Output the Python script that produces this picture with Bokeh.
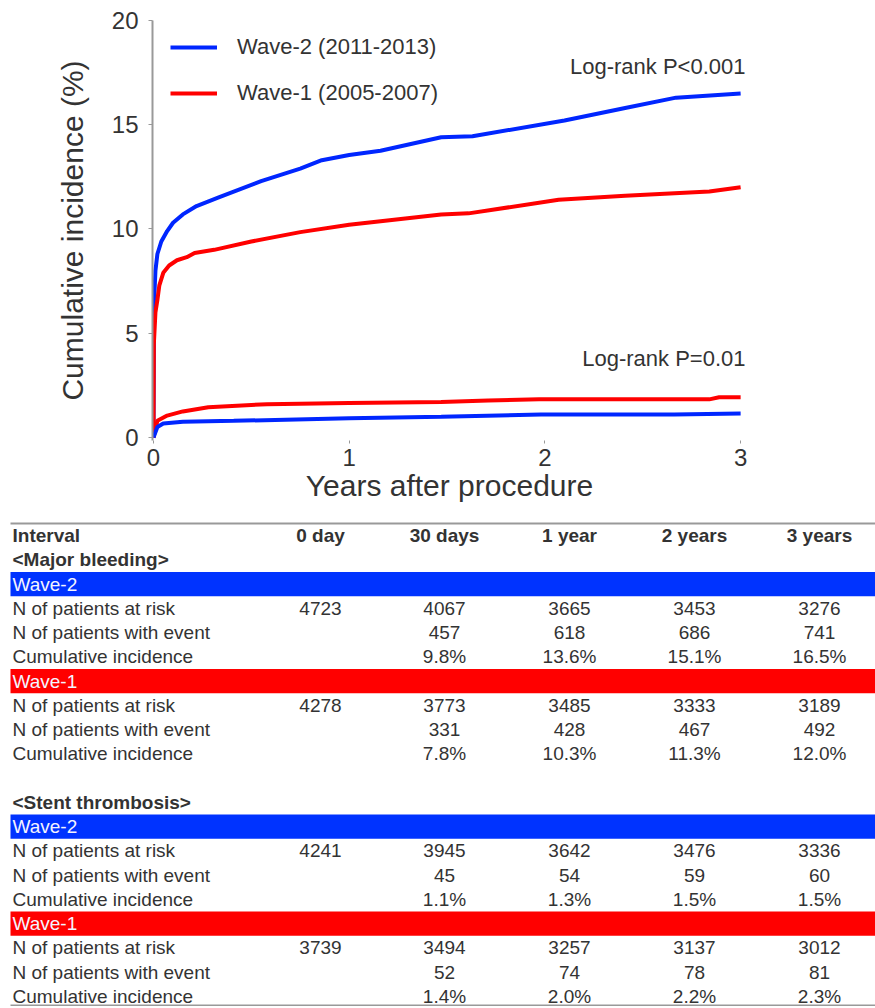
from bokeh.plotting import figure
from bokeh.models import ColumnDataSource, Range1d, FixedTicker, Legend, LegendItem, Label
from bokeh.embed import file_html
from bokeh.resources import INLINE
from bokeh.core.properties import value

FONT = "Liberation Sans"
TXT = "#333333"
BLUE = "#0026ff"
RED = "#ff0000"
BAR_BLUE = "#0033ff"
BAR_RED = "#ff0000"

# ---------------- curve data (years, cumulative incidence %) ----------------
w2_bleed_t = [0, 0.003, 0.01, 0.02, 0.04, 0.07, 0.1, 0.15, 0.22, 0.33, 0.55, 0.75, 0.86, 1.0, 1.16, 1.47, 1.63, 2.1, 2.41, 2.67, 3.0]
w2_bleed_v = [0, 6.5, 8.0, 8.8, 9.4, 9.9, 10.3, 10.7, 11.1, 11.5, 12.3, 12.9, 13.3, 13.55, 13.75, 14.4, 14.45, 15.2, 15.8, 16.3, 16.5]

w1_bleed_t = [0, 0.002, 0.01, 0.02, 0.03, 0.05, 0.08, 0.12, 0.17, 0.21, 0.31, 0.5, 0.75, 1.0, 1.47, 1.61, 2.07, 2.41, 2.84, 3.0]
w1_bleed_v = [0, 4.5, 6.0, 6.6, 7.3, 7.9, 8.25, 8.5, 8.65, 8.85, 9.0, 9.4, 9.85, 10.2, 10.7, 10.75, 11.4, 11.6, 11.8, 12.0]

w2_st_t = [0, 0.02, 0.05, 0.15, 0.41, 1.0, 1.47, 1.98, 2.66, 3.0]
w2_st_v = [0, 0.5, 0.67, 0.75, 0.8, 0.92, 1.0, 1.1, 1.1, 1.15]

w1_st_t = [0, 0.02, 0.07, 0.15, 0.28, 0.58, 1.0, 1.47, 1.71, 1.97, 2.84, 2.89, 3.0]
w1_st_v = [0, 0.8, 1.05, 1.25, 1.45, 1.6, 1.65, 1.7, 1.78, 1.83, 1.83, 1.93, 1.93]

x_ticks = [0, 1, 2, 3]
y_ticks = [0, 5, 10, 15, 20]
legend_labels = ["Wave-2 (2011-2013)", "Wave-1 (2005-2007)"]
p_texts = ["Log-rank P<0.001", "Log-rank P=0.01"]

# ---------------- table data ----------------
interval_cols = ["0 day", "30 days", "1 year", "2 years", "3 years"]
row_labels = ["N of patients at risk", "N of patients with event", "Cumulative incidence"]
section_titles = ["<Major bleeding>", "<Stent thrombosis>"]
group_names = ["Wave-2", "Wave-1"]

bleed_w2_risk = [4723, 4067, 3665, 3453, 3276]
bleed_w2_event = [None, 457, 618, 686, 741]
bleed_w2_cum = [None, 9.8, 13.6, 15.1, 16.5]
bleed_w1_risk = [4278, 3773, 3485, 3333, 3189]
bleed_w1_event = [None, 331, 428, 467, 492]
bleed_w1_cum = [None, 7.8, 10.3, 11.3, 12.0]

st_w2_risk = [4241, 3945, 3642, 3476, 3336]
st_w2_event = [None, 45, 54, 59, 60]
st_w2_cum = [None, 1.1, 1.3, 1.5, 1.5]
st_w1_risk = [3739, 3494, 3257, 3137, 3012]
st_w1_event = [None, 52, 74, 78, 81]
st_w1_cum = [None, 1.4, 2.0, 2.2, 2.3]

# ---------------- KM plot ----------------
W = 875
P_H = 516
p = figure(width=W, height=P_H, x_range=Range1d(-0.005, 3.03), y_range=Range1d(-0.144, 20),
           output_backend="svg", toolbar_location=None, title=None,
           min_border_left=152, min_border_right=129, min_border_top=20, min_border_bottom=76)
p.grid.visible = False
p.outline_line_color = None
p.background_fill_color = "white"

r_w2 = p.line(w2_bleed_t, w2_bleed_v, line_color=BLUE, line_width=4)
r_w1 = p.line(w1_bleed_t, w1_bleed_v, line_color=RED, line_width=4)
p.line(w1_st_t, w1_st_v, line_color=RED, line_width=4)
p.line(w2_st_t, w2_st_v, line_color=BLUE, line_width=4)

xa = p.xaxis[0]
xa.ticker = FixedTicker(ticks=x_ticks)
xa.axis_line_color = None
xa.major_tick_line_color = "#999999"
xa.major_tick_out = 3
xa.major_tick_in = 0
xa.minor_tick_line_color = None
xa.major_label_standoff = 5
xa.major_label_text_font = FONT
xa.major_label_text_font_size = "24px"
xa.major_label_text_color = TXT
xa.axis_label = "Years after procedure"
xa.axis_label_text_font = FONT
xa.axis_label_text_font_size = "30px"
xa.axis_label_text_font_style = "normal"
xa.axis_label_text_color = TXT
xa.axis_label_standoff = 0

ya = p.yaxis[0]
ya.ticker = FixedTicker(ticks=y_ticks)
ya.axis_line_color = "#999999"
ya.axis_line_width = 2
ya.major_tick_line_color = "#999999"
ya.major_tick_out = 4
ya.major_tick_in = 0
ya.minor_tick_line_color = None
ya.major_label_standoff = 10
ya.major_label_text_font = FONT
ya.major_label_text_font_size = "24px"
ya.major_label_text_color = TXT
ya.axis_label = "Cumulative incidence (%)"
ya.axis_label_text_font = FONT
ya.axis_label_text_font_size = "30px"
ya.axis_label_text_font_style = "normal"
ya.axis_label_text_color = TXT
ya.axis_label_standoff = 20

legend = Legend(items=[LegendItem(label=legend_labels[0], renderers=[r_w2]),
                       LegendItem(label=legend_labels[1], renderers=[r_w1])],
                location=(18, 327), glyph_width=47, glyph_height=40, label_height=40,
                label_standoff=20, spacing=6, padding=0, margin=0,
                border_line_alpha=0, background_fill_alpha=0,
                label_text_font=FONT, label_text_font_size="22px", label_text_color=TXT)
p.add_layout(legend)

p.add_layout(Label(x=3.025, y=17.78, text=p_texts[0], text_align="right", text_baseline="alphabetic",
                   text_font=FONT, text_font_size="22px", text_color=TXT))
p.add_layout(Label(x=3.025, y=3.78, text=p_texts[1], text_align="right", text_baseline="alphabetic",
                   text_font=FONT, text_font_size="22px", text_color=TXT))

# ---------------- table ----------------
PITCH = 24.25
TOP_PAD = 19.0
T_H = 490
t = figure(width=W, height=T_H, x_range=Range1d(0, W),
           y_range=Range1d((T_H - TOP_PAD) / PITCH, -TOP_PAD / PITCH),
           output_backend="svg", toolbar_location=None, title=None,
           x_axis_location=None, y_axis_location=None, min_border=0)
t.grid.visible = False
t.outline_line_color = None

col_x = [320, 444, 569, 694, 819]
label_x = 12
bar_left, bar_right = 10, W

bold_left = dict(x=[], y=[], text=[])
bold_center = dict(x=[], y=[], text=[])
norm_left = dict(x=[], y=[], text=[])
norm_center = dict(x=[], y=[], text=[])
bar_txt = dict(x=[], y=[], text=[])
bars = dict(y=[], color=[])

bold_left["x"].append(label_x); bold_left["y"].append(0); bold_left["text"].append("Interval")
for cx, c in zip(col_x, interval_cols):
    bold_center["x"].append(cx); bold_center["y"].append(0); bold_center["text"].append(c)

sections = [
    (section_titles[0], [(group_names[0], BAR_BLUE, [bleed_w2_risk, bleed_w2_event, bleed_w2_cum]),
                         (group_names[1], BAR_RED, [bleed_w1_risk, bleed_w1_event, bleed_w1_cum])]),
    (section_titles[1], [(group_names[0], BAR_BLUE, [st_w2_risk, st_w2_event, st_w2_cum]),
                         (group_names[1], BAR_RED, [st_w1_risk, st_w1_event, st_w1_cum])]),
]

r = 1
for si, (title, groups) in enumerate(sections):
    if si > 0:
        r += 1
    bold_left["x"].append(label_x); bold_left["y"].append(r); bold_left["text"].append(title)
    r += 1
    for gname, gcol, data in groups:
        bars["y"].append(r); bars["color"].append(gcol)
        bar_txt["x"].append(label_x); bar_txt["y"].append(r); bar_txt["text"].append(gname)
        r += 1
        for li, (lab, vals) in enumerate(zip(row_labels, data)):
            norm_left["x"].append(label_x); norm_left["y"].append(r); norm_left["text"].append(lab)
            for cx, v in zip(col_x, vals):
                if v is None:
                    continue
                s = f"{v:.1f}%" if li == 2 else str(v)
                norm_center["x"].append(cx); norm_center["y"].append(r); norm_center["text"].append(s)
            r += 1

last_row = r - 1

t.hbar(y="y", left=bar_left, right=bar_right, height=1.0, fill_color="color", line_color=None,
       source=ColumnDataSource(bars))
t.segment(x0=[bar_left, bar_left], x1=[bar_right, bar_right], y0=[-0.5, last_row + 0.38],
          y1=[-0.5, last_row + 0.38], line_color="#999999", line_width=2)

common = dict(text_font=value(FONT), text_font_size="19px", text_baseline="middle")
t.text(x="x", y="y", text="text", source=ColumnDataSource(bold_left), text_align="left",
       text_font_style="bold", text_color=TXT, **common)
t.text(x="x", y="y", text="text", source=ColumnDataSource(bold_center), text_align="center",
       text_font_style="bold", text_color=TXT, **common)
t.text(x="x", y="y", text="text", source=ColumnDataSource(norm_left), text_align="left",
       text_color=TXT, **common)
t.text(x="x", y="y", text="text", source=ColumnDataSource(norm_center), text_align="center",
       text_color=TXT, **common)
t.text(x="x", y="y", text="text", source=ColumnDataSource(bar_txt), text_align="left",
       text_color="#f4f4ff", **common)

open("out.html", "w").write(file_html([p, t], INLINE))
